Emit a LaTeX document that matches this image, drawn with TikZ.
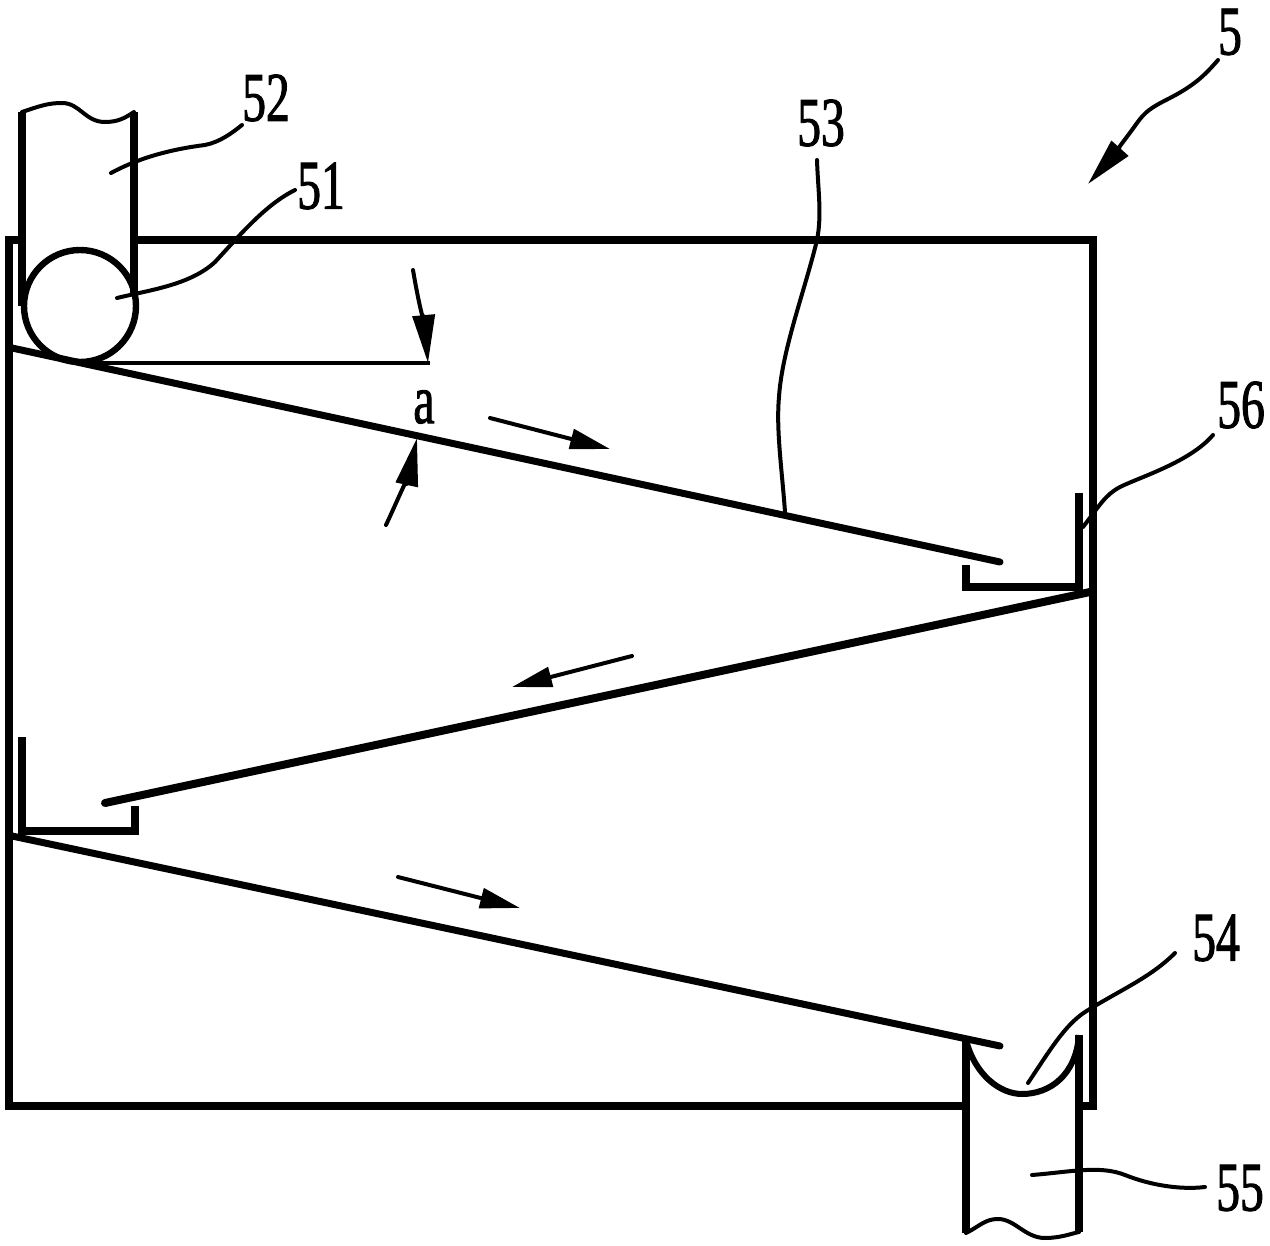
\documentclass[tikz,border=0pt]{standalone}
\usepackage{fontspec}
\setmainfont[FakeStretch=0.68,FakeBold=1.3]{Liberation Serif}
\usetikzlibrary{arrows.meta}
\tikzset{
  wall/.style={line width=3.6pt,line cap=butt,line join=miter},
  belt/.style={line width=3.5pt,line cap=round},
  beltb/.style={line width=4pt,line cap=round},
  thinl/.style={line width=2.4pt},
  wave/.style={line width=2pt,line cap=round},
  leader/.style={line width=2pt,line cap=round},
  flow/.style={line width=2pt,line cap=round,-{Triangle[length=20pt,width=10pt]}},
  dim/.style={line width=2pt,line cap=round,-{Triangle[length=24pt,width=11pt]}},
  lab/.style={font=\fontsize{35pt}{35pt}\selectfont,inner sep=0pt,text=black}
}
\begin{document}
\begin{tikzpicture}[x=0.5pt,y=-0.5pt]
\useasboundingbox (0,0) rectangle (1270,1246);
% housing
\coordinate (wA) at (965,1106); \coordinate (wB) at (9,1106); \coordinate (wC) at (9,240);
\coordinate (wD) at (20,240); \coordinate (wE) at (134,240); \coordinate (wF) at (1093,240);
\coordinate (wG) at (1093,1106); \coordinate (wH) at (1080,1106);
\draw[wall] (wA) -- (wB) -- (wC) -- (wD);
\draw[wall] (wE) -- (wF) -- (wG) -- (wH);
% feed pipe 52
\coordinate (p1) at (22,306); \coordinate (p2) at (22,112); \coordinate (p3) at (134,112); \coordinate (p4) at (134,296);
\draw[wall] (p2) -- (p1);
\draw[wall] (p3) -- (p4);
\draw[wave] (p2) .. controls (40,106) and (48,103) .. (62,103) .. controls (80,103) and (85,122) .. (105,122) .. controls (118,122) and (125,118) .. (p3);
% roller 51
\node[circle,draw,line width=3.2pt,minimum size=56pt,inner sep=0pt,fill=none] (roller) at (80,306) {};
% angle reference
\coordinate (r1) at (80,363); \coordinate (r2) at (430,363);
\draw[thinl] (r1) -- (r2);
% inclined plates
\coordinate (b1s) at (12,348); \coordinate (b1e) at (1000,562);
\coordinate (b2s) at (1090,592); \coordinate (b2e) at (105,803);
\coordinate (b3s) at (12,836); \coordinate (b3e) at (1000,1046);
\draw[belt] (b1s) -- (b1e);
\draw[beltb] (b2s) -- (b2e);
\draw[belt] (b3s) -- (b3e);
% gutter 56 right
\coordinate (g1) at (1079,493); \coordinate (g2) at (1079,587); \coordinate (g3) at (966,587); \coordinate (g4) at (966,565);
\draw[wall] (g1) -- (g2) -- (g3) -- (g4);
% gutter left
\coordinate (h1) at (22,737); \coordinate (h2) at (22,831); \coordinate (h3) at (135,831); \coordinate (h4) at (135,806);
\draw[wall] (h1) -- (h2) -- (h3) -- (h4);
% outlet pipe 55
\coordinate (q1) at (966,1040); \coordinate (q2) at (966,1233); \coordinate (q3) at (1079,1035); \coordinate (q4) at (1079,1232);
\draw[wall] (q1) -- (q2);
\draw[wall] (q3) -- (q4);
\draw[wave] (q2) .. controls (980,1226) and (985,1219) .. (998,1219) .. controls (1015,1219) and (1025,1238) .. (1045,1238) .. controls (1060,1238) and (1070,1234) .. (q4);
\draw[line width=3pt] (q1) .. controls (975,1075) and (1000,1094) .. (1022,1094) .. controls (1050,1094) and (1076,1075) .. (q3);
% flow arrows
\coordinate (f1a) at (490,418); \coordinate (f1b) at (610,449);
\coordinate (f2a) at (632,656); \coordinate (f2b) at (512,687);
\coordinate (f3a) at (398,877); \coordinate (f3b) at (520,908);
\draw[flow] (f1a) -- (f1b);
\draw[flow] (f2a) -- (f2b);
\draw[flow] (f3a) -- (f3b);
% angle arrows
\coordinate (d1a) at (413,270); \coordinate (d1b) at (428,363);
\coordinate (d2a) at (386,525); \coordinate (d2b) at (417,438);
\draw[dim] (d1a) .. controls (418,300) and (425,330) .. (d1b);
\draw[dim] (d2a) .. controls (400,495) and (410,470) .. (d2b);
\node[lab] (la) at (424,407) {a};
% labels
\node[lab] (l5) at (1230,32) {5};
\node[lab] (l52) at (266,98) {52};
\node[lab] (l51) at (321,186) {51};
\node[lab] (l53) at (821,123) {53};
\node[lab] (l56) at (1241,405) {56};
\node[lab] (l54) at (1216,938) {54};
\node[lab] (l55) at (1240,1188) {55};
% leaders
\coordinate (t52) at (111,173); \coordinate (e52) at (242,125);
\coordinate (t51) at (117,298); \coordinate (e51) at (295,190);
\coordinate (t53) at (785,512); \coordinate (e53) at (817,160);
\coordinate (t56) at (1083,527); \coordinate (e56) at (1213,435);
\coordinate (t54) at (1028,1083); \coordinate (e54) at (1175,953);
\coordinate (t55) at (1032,1175); \coordinate (e55) at (1205,1187);
\draw[leader] (t52) .. controls (135,160) and (165,150) .. (205,145) .. controls (220,142) and (232,133) .. (e52);
\draw[leader] (t51) .. controls (150,290) and (190,285) .. (215,262) .. controls (240,235) and (265,205) .. (e51);
\draw[leader] (t53) .. controls (782,470) and (776,430) .. (779,397) .. controls (782,350) and (805,290) .. (817,240) .. controls (822,215) and (818,190) .. (e53);
\draw[leader] (t56) .. controls (1100,505) and (1105,495) .. (1120,487) .. controls (1140,477) and (1190,462) .. (e56);
\draw[leader] (t54) .. controls (1050,1050) and (1065,1025) .. (1085,1012) .. controls (1120,990) and (1150,978) .. (e54);
\draw[leader] (t55) .. controls (1070,1172) and (1100,1165) .. (1125,1175) .. controls (1150,1185) and (1180,1190) .. (e55);
% arrow for 5
\coordinate (a5a) at (1218,60); \coordinate (a5b) at (1088,184);
\draw[dim] (a5a) .. controls (1205,75) and (1195,85) .. (1170,98) .. controls (1150,108) and (1145,112) .. (1137,123) .. controls (1125,140) and (1105,165) .. (a5b);
\end{tikzpicture}
\end{document}
